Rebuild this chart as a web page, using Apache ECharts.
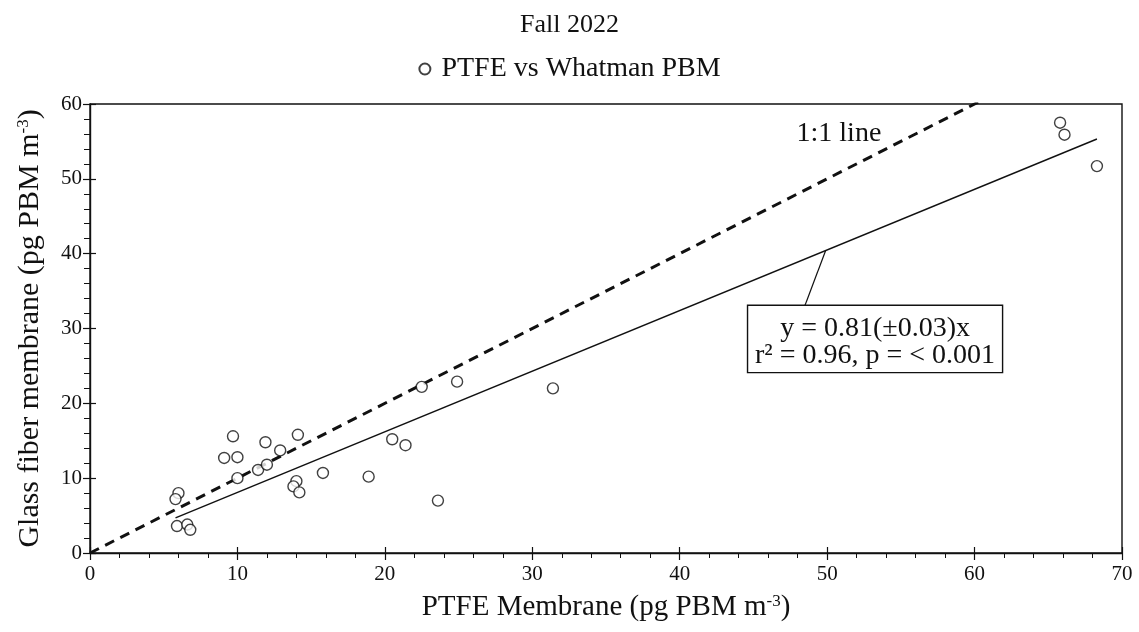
<!DOCTYPE html>
<html>
<head>
<meta charset="utf-8">
<script src="https://cdn.jsdelivr.net/npm/echarts@6/dist/echarts.min.js"></script>
<style>
  html, body { margin: 0; padding: 0; background: #fff; }
  #chart { width: 1139px; height: 632px; }
</style>
</head>
<body>
<div id="chart"></div>
<script>
// PBM concentrations on paired filters (pg PBM m^-3)
const ptfe  = [6.0, 5.8, 5.9, 6.6, 6.8, 9.1, 9.7, 10.0, 10.0, 11.4, 12.0, 11.9, 12.9, 14.1,
               14.0, 13.8, 14.2, 15.8, 18.9, 20.5, 21.4, 23.6, 22.5, 24.9, 31.4, 65.8, 66.1, 68.3];
const glass = [8.0, 7.2, 3.6, 3.8, 3.1, 12.7, 15.6, 12.8, 10.0, 11.1, 11.8, 14.8, 13.7, 15.8,
               9.6, 8.9, 8.1, 10.7, 10.2, 15.2, 14.4, 7.0, 22.2, 22.9, 22.0, 57.5, 55.9, 51.7];

// Fitted slope and statistics
const slope = 0.81;
const slopeErr = 0.03;
const r2 = 0.96;

const xTicks = { min: 0, max: 70, interval: 10 };
const yTicks = { min: 0, max: 60, interval: 10 };

const serif = '"Liberation Serif", "DejaVu Serif", serif';
const ink = '#111';
const points = ptfe.map((x, i) => [x, glass[i]]);
const xLo = Math.min(...ptfe), xHi = Math.max(...ptfe);
const fitLine = [[xLo, slope * xLo], [xHi, slope * xHi]];
const oneToOne = [[0, 0], [xTicks.max, xTicks.max]];

const chart = echarts.init(document.getElementById('chart'));

function baseX(extra) {
  return Object.assign({
    type: 'value', min: xTicks.min, max: xTicks.max, interval: xTicks.interval,
    position: 'bottom', splitLine: { show: false }
  }, extra);
}
function baseY(extra) {
  return Object.assign({
    type: 'value', min: yTicks.min, max: yTicks.max, interval: yTicks.interval,
    position: 'left', splitLine: { show: false }
  }, extra);
}
const supRich = { sup: { fontFamily: serif, fontSize: 17, color: ink, verticalAlign: 'top', padding: [0, 0, 12, 0] } };

chart.setOption({
  animation: false,
  backgroundColor: '#fff',
  textStyle: { fontFamily: serif, color: ink },
  title: {
    text: 'Fall 2022', left: 'center', top: 7,
    textStyle: { fontFamily: serif, fontSize: 26, fontWeight: 'normal', color: ink }
  },
  legend: {
    top: 50, left: 'center', itemWidth: 11, itemHeight: 11,
    textStyle: { fontFamily: serif, fontSize: 28, color: ink, padding: [0, 0, 0, 6] },
    data: [{ name: 'PTFE vs Whatman PBM', icon: 'circle' }]
  },
  grid: {
    left: 90, right: 17, top: 104, bottom: 79,
    show: true, borderColor: ink, borderWidth: 1.4, backgroundColor: 'transparent'
  },
  xAxis: [
    baseX({
      name: 'PTFE Membrane (pg PBM m{sup|-3})',
      nameLocation: 'middle', nameGap: 40,
      nameTextStyle: { fontFamily: serif, fontSize: 29, color: ink, rich: supRich },
      axisLine: { lineStyle: { color: ink, width: 1.4 } },
      axisTick: { inside: false, length: 7, lineStyle: { color: ink, width: 1.2 } },
      minorTick: { show: true, splitNumber: 5, length: 5, lineStyle: { color: ink, width: 1 } },
      axisLabel: { fontFamily: serif, fontSize: 21, color: ink, margin: 11 }
    }),
    baseX({
      axisLine: { show: false },
      axisTick: { inside: true, length: 6, lineStyle: { color: ink, width: 1.2 } },
      axisLabel: { show: false }
    })
  ],
  yAxis: [
    baseY({
      name: 'Glass fiber membrane (pg PBM m{sup|-3})',
      nameLocation: 'middle', nameGap: 45, nameRotate: 90,
      nameTextStyle: { fontFamily: serif, fontSize: 30, color: ink, rich: supRich },
      axisLine: { lineStyle: { color: ink, width: 1.4 } },
      axisTick: { inside: false, length: 7, lineStyle: { color: ink, width: 1.2 } },
      minorTick: { show: true, splitNumber: 5, length: 6, lineStyle: { color: ink, width: 1 } },
      axisLabel: { fontFamily: serif, fontSize: 21, color: ink, margin: 8 }
    }),
    baseY({
      axisLine: { show: false },
      axisTick: { inside: true, length: 6, lineStyle: { color: ink, width: 1.2 } },
      axisLabel: { show: false }
    })
  ],
  series: [
    {
      name: '1:1 line', type: 'line', data: oneToOne, clip: true,
      symbol: 'none', silent: true,
      lineStyle: { color: ink, width: 3, type: [10, 7] },
      z: 2
    },
    {
      name: 'fit', type: 'line', data: fitLine,
      symbol: 'none', silent: true,
      lineStyle: { color: ink, width: 1.4 },
      z: 2
    },
    {
      name: 'PTFE vs Whatman PBM', type: 'scatter', data: points,
      symbol: 'circle', symbolSize: 11,
      itemStyle: { color: '#fff', borderColor: ink, borderWidth: 1.4 },
      z: 3
    }
  ]
});

// Annotations placed in data space
function px(x, y) { return chart.convertToPixel({ gridIndex: 0 }, [x, y]); }

const fitLabelX = 49.9;             // point on fitted line where the leader starts
const leadStart = px(fitLabelX, slope * fitLabelX);
const boxTL = px(44.6, 33.1);
const boxBR = px(61.9, 24.1);
const leadEnd = px(48.5, 33.1);
const boxW = boxBR[0] - boxTL[0], boxH = boxBR[1] - boxTL[1];
const oneLbl = px(50.8, 56.0);

chart.setOption({
  graphic: [
    {
      type: 'line', silent: true, z: 10,
      shape: { x1: leadStart[0], y1: leadStart[1], x2: leadEnd[0], y2: leadEnd[1] },
      style: { stroke: ink, lineWidth: 1.2 }
    },
    {
      type: 'rect', silent: true, z: 10,
      shape: { x: boxTL[0], y: boxTL[1], width: boxW, height: boxH },
      style: { fill: '#fff', stroke: ink, lineWidth: 1.4 }
    },
    {
      type: 'text', silent: true, z: 11,
      x: boxTL[0] + boxW / 2, y: boxTL[1] + boxH / 2 + 3,
      style: {
        text: 'y = ' + slope.toFixed(2) + '(\u00b1' + slopeErr.toFixed(2) + ')x\nr\u00b2 = ' + r2.toFixed(2) + ', p = < 0.001',
        font: '28px ' + serif, fill: ink,
        align: 'center', verticalAlign: 'middle', lineHeight: 27
      }
    },
    {
      type: 'text', silent: true, z: 11,
      x: oneLbl[0], y: oneLbl[1],
      style: {
        text: '1:1 line', font: '28px ' + serif, fill: ink,
        align: 'center', verticalAlign: 'middle'
      }
    }
  ]
});
</script>
</body>
</html>
